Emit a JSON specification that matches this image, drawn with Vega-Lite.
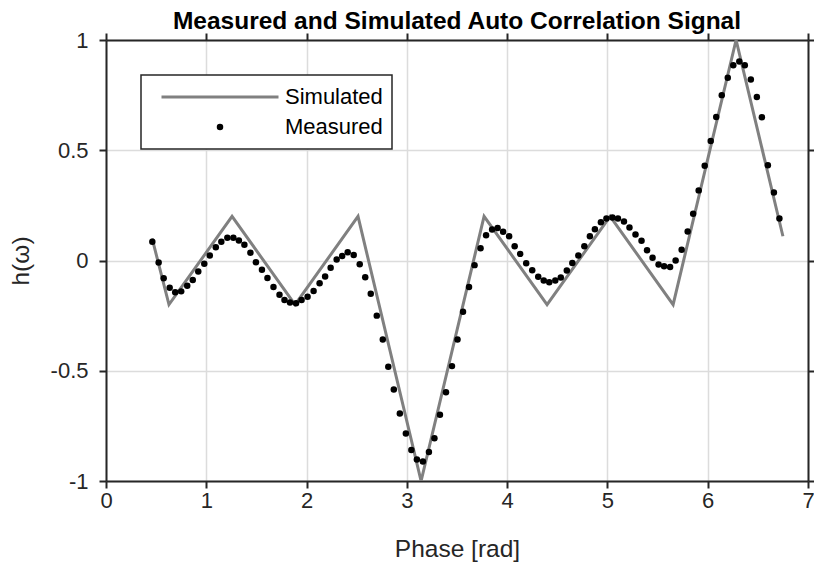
{
  "$schema": "https://vega.github.io/schema/vega-lite/v6.json",
  "width": 702,
  "height": 441,
  "autosize": {"type": "none"},
  "padding": {"left": 106, "top": 40, "right": 6, "bottom": 84},
  "background": "white",
  "title": {"text": "Measured and Simulated Auto Correlation Signal", "font": "Liberation Sans", "fontSize": 24.5, "fontWeight": "bold", "color": "#000000", "anchor": "middle", "offset": -5},
  "datasets": {
    "sim": [
      {"phase": 0.46, "h": 0.1, "series": "Simulated"},
      {"phase": 0.628, "h": -0.2, "series": "Simulated"},
      {"phase": 1.257, "h": 0.2, "series": "Simulated"},
      {"phase": 1.885, "h": -0.2, "series": "Simulated"},
      {"phase": 2.513, "h": 0.2, "series": "Simulated"},
      {"phase": 3.142, "h": -1, "series": "Simulated"},
      {"phase": 3.77, "h": 0.2, "series": "Simulated"},
      {"phase": 4.398, "h": -0.2, "series": "Simulated"},
      {"phase": 5.027, "h": 0.2, "series": "Simulated"},
      {"phase": 5.655, "h": -0.2, "series": "Simulated"},
      {"phase": 6.283, "h": 1, "series": "Simulated"},
      {"phase": 6.75, "h": 0.11, "series": "Simulated"}
    ],
    "meas": [
      {"phase": 0.462, "h": 0.085, "series": "Measured"},
      {"phase": 0.525, "h": -0.009, "series": "Measured"},
      {"phase": 0.575, "h": -0.08, "series": "Measured"},
      {"phase": 0.635, "h": -0.124, "series": "Measured"},
      {"phase": 0.69, "h": -0.144, "series": "Measured"},
      {"phase": 0.75, "h": -0.14, "series": "Measured"},
      {"phase": 0.81, "h": -0.115, "series": "Measured"},
      {"phase": 0.865, "h": -0.088, "series": "Measured"},
      {"phase": 0.92, "h": -0.05, "series": "Measured"},
      {"phase": 0.98, "h": -0.015, "series": "Measured"},
      {"phase": 1.035, "h": 0.023, "series": "Measured"},
      {"phase": 1.095, "h": 0.06, "series": "Measured"},
      {"phase": 1.15, "h": 0.085, "series": "Measured"},
      {"phase": 1.21, "h": 0.103, "series": "Measured"},
      {"phase": 1.27, "h": 0.103, "series": "Measured"},
      {"phase": 1.325, "h": 0.091, "series": "Measured"},
      {"phase": 1.38, "h": 0.071, "series": "Measured"},
      {"phase": 1.44, "h": 0.035, "series": "Measured"},
      {"phase": 1.495, "h": -0.008, "series": "Measured"},
      {"phase": 1.555, "h": -0.042, "series": "Measured"},
      {"phase": 1.61, "h": -0.079, "series": "Measured"},
      {"phase": 1.67, "h": -0.12, "series": "Measured"},
      {"phase": 1.73, "h": -0.155, "series": "Measured"},
      {"phase": 1.78, "h": -0.179, "series": "Measured"},
      {"phase": 1.835, "h": -0.19, "series": "Measured"},
      {"phase": 1.895, "h": -0.194, "series": "Measured"},
      {"phase": 1.95, "h": -0.179, "series": "Measured"},
      {"phase": 2.01, "h": -0.164, "series": "Measured"},
      {"phase": 2.07, "h": -0.138, "series": "Measured"},
      {"phase": 2.13, "h": -0.103, "series": "Measured"},
      {"phase": 2.185, "h": -0.073, "series": "Measured"},
      {"phase": 2.24, "h": -0.033, "series": "Measured"},
      {"phase": 2.3, "h": 0.005, "series": "Measured"},
      {"phase": 2.355, "h": 0.02, "series": "Measured"},
      {"phase": 2.41, "h": 0.037, "series": "Measured"},
      {"phase": 2.47, "h": 0.025, "series": "Measured"},
      {"phase": 2.53, "h": -0.017, "series": "Measured"},
      {"phase": 2.585, "h": -0.076, "series": "Measured"},
      {"phase": 2.64, "h": -0.151, "series": "Measured"},
      {"phase": 2.7, "h": -0.25, "series": "Measured"},
      {"phase": 2.76, "h": -0.358, "series": "Measured"},
      {"phase": 2.815, "h": -0.482, "series": "Measured"},
      {"phase": 2.87, "h": -0.585, "series": "Measured"},
      {"phase": 2.93, "h": -0.694, "series": "Measured"},
      {"phase": 2.99, "h": -0.785, "series": "Measured"},
      {"phase": 3.045, "h": -0.859, "series": "Measured"},
      {"phase": 3.1, "h": -0.903, "series": "Measured"},
      {"phase": 3.16, "h": -0.912, "series": "Measured"},
      {"phase": 3.22, "h": -0.868, "series": "Measured"},
      {"phase": 3.275, "h": -0.806, "series": "Measured"},
      {"phase": 3.33, "h": -0.7, "series": "Measured"},
      {"phase": 3.39, "h": -0.597, "series": "Measured"},
      {"phase": 3.45, "h": -0.479, "series": "Measured"},
      {"phase": 3.505, "h": -0.358, "series": "Measured"},
      {"phase": 3.56, "h": -0.232, "series": "Measured"},
      {"phase": 3.62, "h": -0.12, "series": "Measured"},
      {"phase": 3.675, "h": -0.021, "series": "Measured"},
      {"phase": 3.735, "h": 0.056, "series": "Measured"},
      {"phase": 3.79, "h": 0.115, "series": "Measured"},
      {"phase": 3.85, "h": 0.141, "series": "Measured"},
      {"phase": 3.905, "h": 0.147, "series": "Measured"},
      {"phase": 3.96, "h": 0.13, "series": "Measured"},
      {"phase": 4.02, "h": 0.11, "series": "Measured"},
      {"phase": 4.075, "h": 0.065, "series": "Measured"},
      {"phase": 4.13, "h": 0.03, "series": "Measured"},
      {"phase": 4.19, "h": -0.012, "series": "Measured"},
      {"phase": 4.25, "h": -0.044, "series": "Measured"},
      {"phase": 4.31, "h": -0.074, "series": "Measured"},
      {"phase": 4.365, "h": -0.091, "series": "Measured"},
      {"phase": 4.42, "h": -0.099, "series": "Measured"},
      {"phase": 4.48, "h": -0.091, "series": "Measured"},
      {"phase": 4.535, "h": -0.077, "series": "Measured"},
      {"phase": 4.595, "h": -0.045, "series": "Measured"},
      {"phase": 4.65, "h": -0.011, "series": "Measured"},
      {"phase": 4.71, "h": 0.023, "series": "Measured"},
      {"phase": 4.77, "h": 0.065, "series": "Measured"},
      {"phase": 4.825, "h": 0.11, "series": "Measured"},
      {"phase": 4.875, "h": 0.142, "series": "Measured"},
      {"phase": 4.935, "h": 0.173, "series": "Measured"},
      {"phase": 4.99, "h": 0.19, "series": "Measured"},
      {"phase": 5.05, "h": 0.195, "series": "Measured"},
      {"phase": 5.105, "h": 0.19, "series": "Measured"},
      {"phase": 5.165, "h": 0.177, "series": "Measured"},
      {"phase": 5.22, "h": 0.15, "series": "Measured"},
      {"phase": 5.28, "h": 0.118, "series": "Measured"},
      {"phase": 5.34, "h": 0.09, "series": "Measured"},
      {"phase": 5.395, "h": 0.047, "series": "Measured"},
      {"phase": 5.45, "h": 0.012, "series": "Measured"},
      {"phase": 5.51, "h": -0.018, "series": "Measured"},
      {"phase": 5.565, "h": -0.026, "series": "Measured"},
      {"phase": 5.625, "h": -0.029, "series": "Measured"},
      {"phase": 5.68, "h": 0.0, "series": "Measured"},
      {"phase": 5.74, "h": 0.049, "series": "Measured"},
      {"phase": 5.8, "h": 0.132, "series": "Measured"},
      {"phase": 5.855, "h": 0.212, "series": "Measured"},
      {"phase": 5.91, "h": 0.318, "series": "Measured"},
      {"phase": 5.97, "h": 0.43, "series": "Measured"},
      {"phase": 6.03, "h": 0.542, "series": "Measured"},
      {"phase": 6.085, "h": 0.651, "series": "Measured"},
      {"phase": 6.14, "h": 0.75, "series": "Measured"},
      {"phase": 6.2, "h": 0.829, "series": "Measured"},
      {"phase": 6.255, "h": 0.886, "series": "Measured"},
      {"phase": 6.315, "h": 0.903, "series": "Measured"},
      {"phase": 6.37, "h": 0.885, "series": "Measured"},
      {"phase": 6.43, "h": 0.821, "series": "Measured"},
      {"phase": 6.49, "h": 0.741, "series": "Measured"},
      {"phase": 6.54, "h": 0.65, "series": "Measured"},
      {"phase": 6.6, "h": 0.432, "series": "Measured"},
      {"phase": 6.66, "h": 0.308, "series": "Measured"},
      {"phase": 6.715, "h": 0.19, "series": "Measured"}
    ]
  },
  "layer": [
    {
      "data": {"name": "sim"},
      "mark": {"type": "line", "strokeWidth": 3, "clip": true},
      "encoding": {
        "x": {"field": "phase", "type": "quantitative", "scale": {"domain": [0, 7], "nice": false, "zero": false},
              "axis": {"orient": "bottom", "values": [0, 1, 2, 3, 4, 5, 6, 7], "title": "Phase [rad]", "grid": true, "labelPadding": 2, "titlePadding": 26,
                       "encode": {"ticks": {"update": {"y2": {"value": -7}}}}}},
        "y": {"field": "h", "type": "quantitative", "scale": {"domain": [-1, 1], "nice": false, "zero": false},
              "axis": {"orient": "left", "values": [-1, -0.5, 0, 0.5, 1], "title": "h(ω)", "grid": true, "labelPadding": 11, "titlePadding": 17, "labelExpr": "'' + datum.value",
                       "encode": {"ticks": {"update": {"x2": {"value": 7}}}}}},
        "color": {"field": "series", "type": "nominal", "scale": {"domain": ["Simulated", "Measured"], "range": ["#808080", "#000000"]},
                  "legend": {"title": null, "orient": "top-left", "offset": 35,
                    "encode": {"symbols": {"update": {"fill": {"scale": "color", "field": "value"}, "stroke": {"scale": "color", "field": "value"}, "strokeWidth": {"signal": "datum.value === 'Simulated' ? 3 : 0"}, "size": {"signal": "datum.value === 'Simulated' ? 13689 : 42"}, "opacity": {"value": 1}}}}}}
      }
    },
    {
      "data": {"name": "meas"},
      "mark": {"type": "point", "filled": true, "size": 42, "opacity": 1},
      "encoding": {
        "x": {"field": "phase", "type": "quantitative", "axis": null},
        "y": {"field": "h", "type": "quantitative", "axis": null},
        "color": {"field": "series", "type": "nominal"},
        "shape": {"field": "series", "type": "nominal", "scale": {"domain": ["Simulated", "Measured"], "range": ["stroke", "circle"]},
                  "legend": {"title": null, "orient": "top-left", "offset": 35,
                    "encode": {"symbols": {"update": {"fill": {"scale": "color", "field": "value"}, "stroke": {"scale": "color", "field": "value"}, "strokeWidth": {"signal": "datum.value === 'Simulated' ? 3 : 0"}, "size": {"signal": "datum.value === 'Simulated' ? 13689 : 42"}, "opacity": {"value": 1}}}}}}
      }
    },
    {
      "data": {"name": "meas"},
      "mark": {"type": "point", "opacity": 0},
      "encoding": {
        "x": {"field": "phase", "type": "quantitative", "axis": {"orient": "top", "values": [0, 1, 2, 3, 4, 5, 6, 7], "labels": false, "title": null, "grid": false,
                "encode": {"ticks": {"update": {"y2": {"value": 7}}}}}},
        "y": {"field": "h", "type": "quantitative", "axis": {"orient": "right", "values": [-1, -0.5, 0, 0.5, 1], "labels": false, "title": null, "grid": false,
                "encode": {"ticks": {"update": {"x2": {"value": -7}}}}}}
      }
    }
  ],
  "resolve": {"axis": {"x": "independent", "y": "independent"}},
  "config": {
    "view": {"stroke": null},
    "axis": {
      "domainColor": "#262626", "domainWidth": 2,
      "tickColor": "#262626", "tickWidth": 2, "tickSize": 7,
      "gridColor": "#dcdcdc", "gridWidth": 1.5,
      "labelFont": "Liberation Sans", "labelFontSize": 22, "labelColor": "#262626", "labelOverlap": false, "labelFlush": false,
      "titleFont": "Liberation Sans", "titleFontSize": 24.5, "titleFontWeight": "normal", "titleColor": "#262626"
    },
    "legend": {
      "padding": 9, "fillColor": "white", "strokeColor": "#262626", "strokeWidth": 1.5,
      "symbolSize": 13689, "symbolOffset": 59, "labelOffset": 54, "clipHeight": 26, "rowPadding": 4,
      "labelFont": "Liberation Sans", "labelFontSize": 22, "labelColor": "#000000", "labelLimit": 300
    }
  }
}
